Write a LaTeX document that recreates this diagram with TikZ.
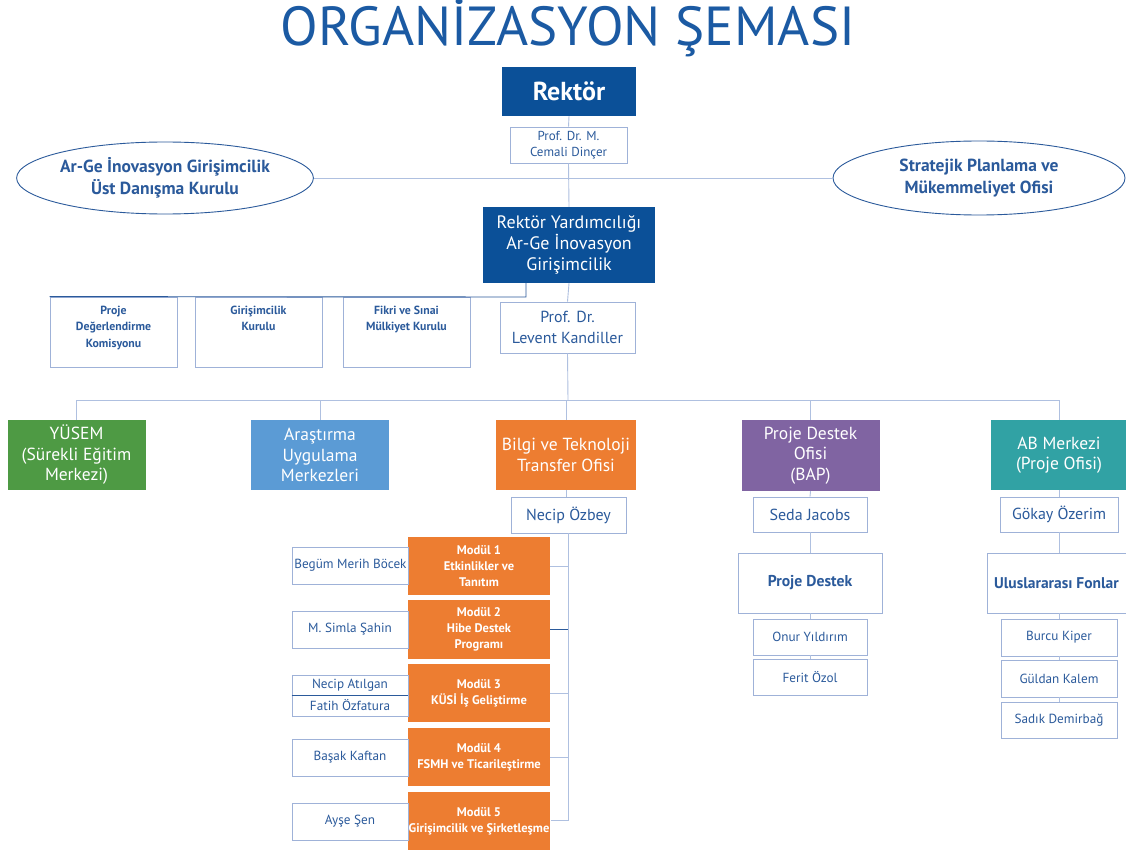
\documentclass[tikz,border=0pt]{standalone}
\usepackage{fontspec}
\setmainfont{PT Sans}
\usetikzlibrary{shapes.geometric}
\definecolor{navy}{HTML}{0B5098}
\definecolor{titleblue}{HTML}{1B5AA3}
\definecolor{txtblue}{HTML}{2B5A9B}
\definecolor{edge}{HTML}{9FB2D8}
\definecolor{wire}{HTML}{AFC0E0}
\definecolor{ugreen}{HTML}{4E9A44}
\definecolor{ublue}{HTML}{5B9BD5}
\definecolor{uorange}{HTML}{ED7D31}
\definecolor{upurple}{HTML}{8064A2}
\definecolor{uteal}{HTML}{31A2A4}
\tikzset{
  darkbox/.style={fill=navy, draw=none, text=white, align=center, inner sep=1pt},
  lightbox/.style={fill=white, draw=edge, line width=0.8pt, text=txtblue, align=center, inner sep=1pt},
  unitbox/.style={fill=#1, draw=none, text=white, align=center, inner sep=1pt, minimum width=138, minimum height=70,
     font=\fontsize{17.5}{20.5}\selectfont},
  modbox/.style={fill=uorange, draw=none, text=white, align=center, inner sep=1pt, minimum width=142, minimum height=58,
     font=\fontsize{12.5}{16}\selectfont\bfseries},
  pbox/.style={lightbox, minimum width=116, minimum height=37, font=\fontsize{13.2}{15}\selectfont},
  ovalbox/.style={ellipse, fill=white, draw=txtblue, line width=0.9pt, text=txtblue, align=center, inner sep=0pt,
     font=\fontsize{17.5}{22}\selectfont\bfseries},
  combox/.style={lightbox, minimum width=127, minimum height=70},
  wireline/.style={draw=wire, line width=0.9pt},
  darkwire/.style={draw=txtblue, line width=0.9pt},
}
\begin{document}
\begin{tikzpicture}[x=1pt,y=-1pt]
\useasboundingbox (0,0) rectangle (1126,850);
\fill[white] (0,0) rectangle (1126,850);

% title
\node[text=titleblue, font=\fontsize{55}{60}\selectfont, inner sep=0pt] (title) at (568,28) {ORGANİZASYON ŞEMASI};

% top level
\node[darkbox, minimum width=134, minimum height=49, font=\fontsize{26}{30}\selectfont\bfseries] (rektor) at (569,91.5) {Rektör};
\node[lightbox, minimum width=117, minimum height=36, font=\fontsize{13}{16}\selectfont] (cemali) at (568.5,145) {Prof. Dr. M.\\Cemali Dinçer};
\node[ovalbox, minimum width=290, minimum height=72] (lell) at (165,178) {Ar-Ge İnovasyon Girişimcilik\\Üst Danışma Kurulu};
\node[ovalbox, minimum width=292, minimum height=74] (rell) at (979,178) {Stratejik Planlama ve\\Mükemmeliyet Ofisi};
\node[darkbox, minimum width=172, minimum height=76, font=\fontsize{18}{21}\selectfont] (ryard) at (569,245) {Rektör Yardımcılığı\\Ar-Ge İnovasyon\\Girişimcilik};

% connectors top
\draw[wireline] (rektor.south) -- (cemali.north);
\draw[wireline] (cemali.south) -- (ryard.north);
\draw[wireline] (lell.east) -- (rell.west);

% committees
\node[combox] (c1) at (113.5,332) {};
\node[combox] (c2) at (258.5,332) {};
\node[combox] (c3) at (406.5,332) {};
\foreach \n/\t in {c1/{Proje\\Değerlendirme\\Komisyonu}, c2/{Girişimcilik\\Kurulu}, c3/{Fikri ve Sınai\\Mülkiyet Kurulu}}{
  \node[anchor=north, text=txtblue, align=center, inner sep=0pt, font=\fontsize{11.8}{16.5}\selectfont\bfseries] at ([yshift=-9pt]\n.north) {\t};
}
\node[lightbox, minimum width=135, minimum height=51, font=\fontsize{16}{21}\selectfont] (levent) at (567.5,327.5) {Prof. Dr.\\Levent Kandiller};
\coordinate (cj) at (526,297);
\draw[darkwire] (ryard.south -| cj) -- (cj) -- (c1.north west);

\draw[wireline] (ryard.south) -- (levent.north);

% units
\node[unitbox=ugreen] (yusem) at (76.5,455) {YÜSEM\\(Sürekli Eğitim\\Merkezi)};
\node[unitbox=ublue] (arast) at (320,455) {Araştırma\\Uygulama\\Merkezleri};
\node[unitbox=uorange, minimum width=140] (bilgi) at (566,455) {Bilgi ve Teknoloji\\Transfer Ofisi};
\node[unitbox=upurple, minimum height=71] (pdo) at (810.5,455.5) {Proje Destek\\Ofisi\\(BAP)};
\node[unitbox=uteal, minimum width=136] (ab) at (1059,455) {AB Merkezi\\(Proje Ofisi)};

\coordinate (bus) at (568,400);
\draw[wireline] (levent.south) -- (bus);
\draw[wireline] (yusem.north) -- (yusem.north |- bus) -- (ab.north |- bus) -- (ab.north);
\draw[wireline] (arast.north) -- (arast.north |- bus);
\draw[wireline] (bilgi.north) -- (bilgi.north |- bus);
\draw[wireline] (pdo.north) -- (pdo.north |- bus);

% heads
\node[lightbox, minimum width=115, minimum height=36, font=\fontsize{16}{19}\selectfont] (necip) at (568.5,515) {Necip Özbey};
\node[lightbox, minimum width=114, minimum height=35, font=\fontsize{16}{19}\selectfont] (seda) at (810,514.5) {Seda Jacobs};
\node[lightbox, minimum width=118, minimum height=35, font=\fontsize{16}{19}\selectfont] (gokay) at (1059,514.5) {Gökay Özerim};
\draw[wireline] (bilgi.south) -- (bilgi.south |- necip.north);
\draw[wireline] (pdo.south) -- (seda.north);
\draw[wireline] (ab.south) -- (gokay.north);

% modules
\node[modbox] (m1) at (479,566) {Modül 1\\Etkinlikler ve\\Tanıtım};
\node[modbox, minimum height=59] (m2) at (479,629.5) {Modül 2\\Hibe Destek\\Programı};
\node[modbox] (m3) at (479,693) {Modül 3\\KÜSİ İş Geliştirme};
\node[modbox] (m4) at (479,757) {Modül 4\\FSMH ve Ticarileştirme};
\node[modbox] (m5) at (479,821) {Modül 5\\Girişimcilik ve Şirketleşme};

\coordinate (trunkend) at (568,820);
\draw[wireline] (necip.south -| trunkend) -- (trunkend) -- (m5.east |- trunkend);
\draw[wireline] (m1.east) -- (m1.east -| trunkend);
\draw[darkwire] (m2.east) -- (m2.east -| trunkend);
\draw[wireline] (m3.east) -- (m3.east -| trunkend);
\draw[wireline] (m4.east) -- (m4.east -| trunkend);

% persons
\node[pbox] (p1) at (350,565.5) {\hspace*{1pt}Begüm Merih Böcek};
\node[pbox] (p2) at (350,629.5) {M. Simla Şahin};
\node[pbox, minimum height=20] (p3a) at (350,685) {Necip Atılgan};
\node[pbox, minimum height=21] (p3b) at (350,705.5) {Fatih Özfatura};
\draw[darkwire] (p3a.south west) -- (p3a.south east);
\node[pbox] (p4) at (350,757.5) {Başak Kaftan};
\node[pbox] (p5) at (350,821.5) {Ayşe Şen};

% Proje destek column
\node[lightbox, minimum width=144, minimum height=60, font=\fontsize{15.7}{18}\selectfont\bfseries] (pdest) at (810,583) {Proje Destek};
\node[pbox, minimum width=114, minimum height=36] (onur) at (810,637) {Onur Yıldırım};
\node[pbox, minimum width=114, minimum height=36] (ferit) at (810,677) {Ferit Özol};
\draw[wireline] (seda.south) -- (pdest.north);
\draw[wireline] (pdest.south) -- (onur.north);
\draw[wireline] (onur.south) -- (ferit.north);

% AB column
\node[lightbox, minimum width=139, minimum height=60, font=\fontsize{15.5}{18}\selectfont\bfseries] (ulus) at (1056.5,583) {Uluslararası Fonlar};
\node[pbox] (burcu) at (1059,637.5) {Burcu Kiper};
\node[pbox] (guldan) at (1059,678.5) {Güldan Kalem};
\node[pbox, minimum height=36] (sadik) at (1059,720) {Sadık Demirbağ};
\draw[wireline] (gokay.south) -- (gokay.south |- ulus.north);
\draw[wireline] (gokay.south |- ulus.south) -- (burcu.north);
\draw[wireline] (burcu.south) -- (guldan.north);
\draw[wireline] (guldan.south) -- (sadik.north);
\end{tikzpicture}
\end{document}
